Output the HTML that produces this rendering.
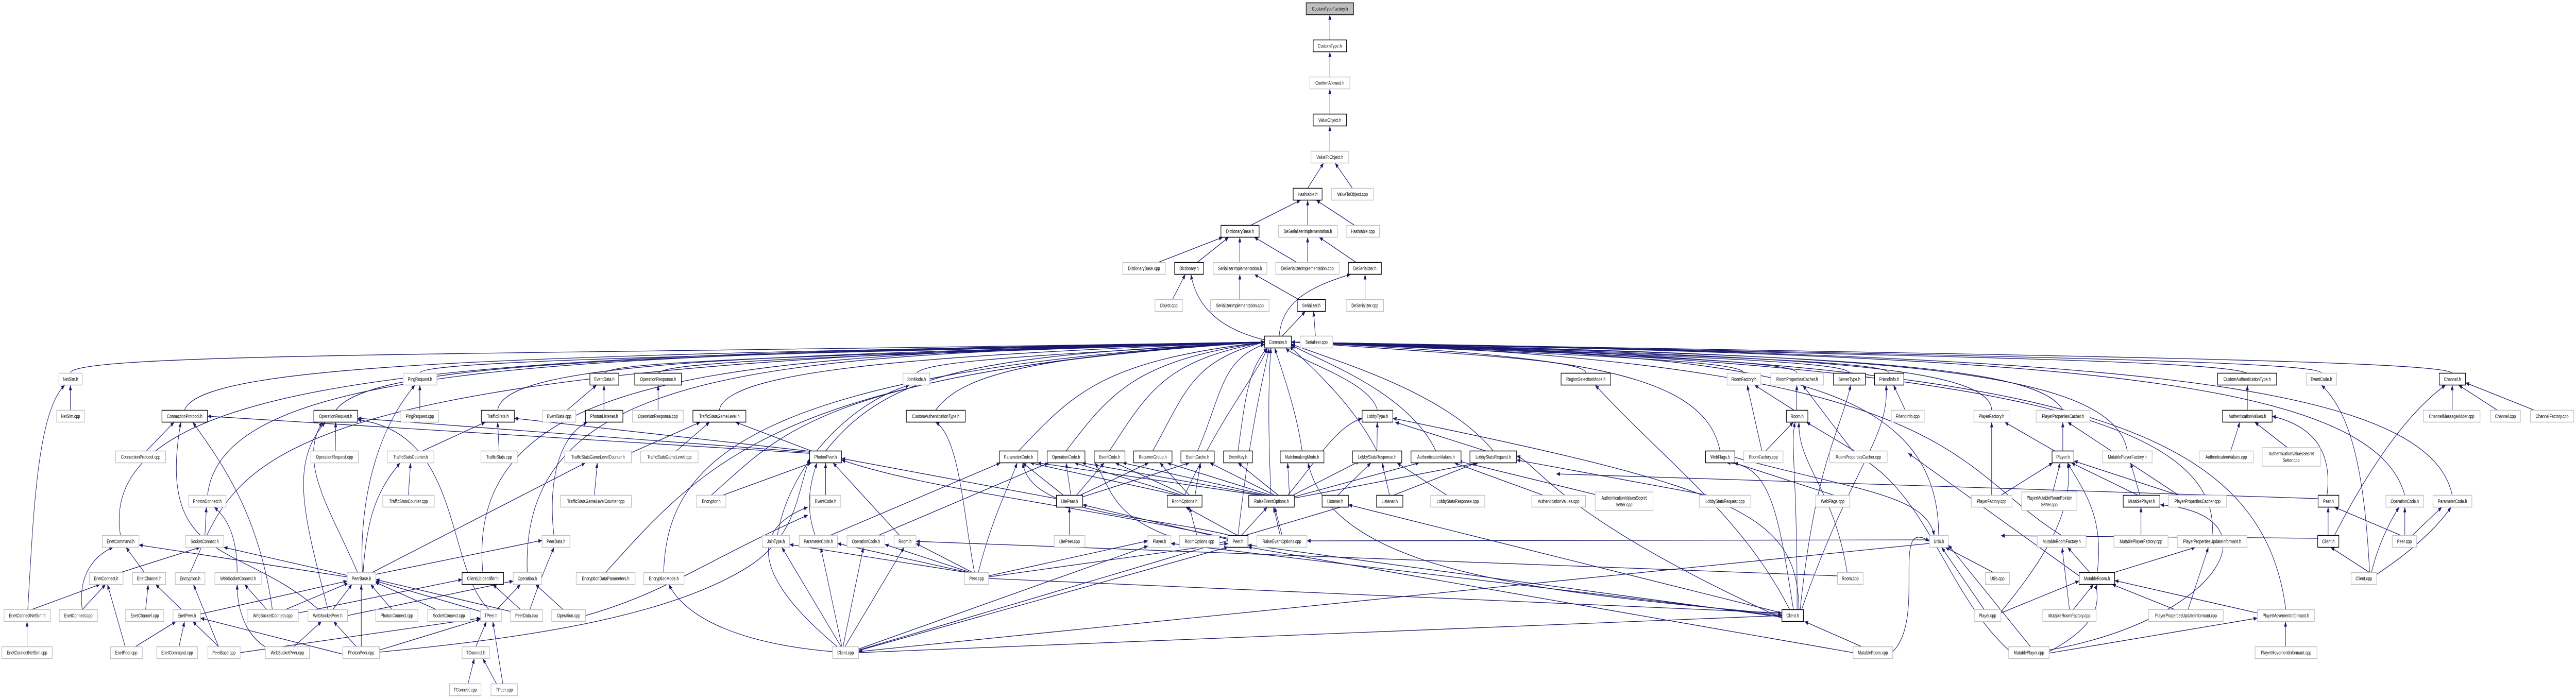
<!DOCTYPE html>
<html><head><meta charset="utf-8"><style>
html,body{margin:0;padding:0;background:#fff;overflow:hidden;width:100vw;height:100vh}
svg{display:block;width:100vw;height:100vh}
.n rect{fill:#fff;stroke:#bfbfbf;stroke-width:1.5}
.b rect{fill:#fff;stroke:#000;stroke-width:1.5}
text{font-family:"Liberation Sans",sans-serif;font-size:10px;text-anchor:middle;fill:#000}
.e path{fill:none;stroke:#191970;stroke-width:1.3;marker-end:url(#a)}
</style></head><body>
<svg viewBox="0 0 6952 1357" preserveAspectRatio="none" xmlns="http://www.w3.org/2000/svg">
<defs><marker id="a" markerWidth="10" markerHeight="8" refX="10" refY="4" orient="auto" markerUnits="userSpaceOnUse"><path d="M0,0 L10,4 L0,8z" fill="#191970"/></marker></defs>
<rect width="6952" height="1357" fill="#fff"/>
<g class="e">
<path d="M3589,77.5 L3589,28.5"/>
<path d="M3589,149.5 L3589,100.5"/>
<path d="M3589,221.5 L3589,172.5"/>
<path d="M3589,293.5 L3589,244.5"/>
<path d="M3529,365.5 L3572,316.5"/>
<path d="M3650,365.5 L3603,316.5"/>
<path d="M3375,437.5 L3510,388.5"/>
<path d="M3529,437.5 L3529,388.5"/>
<path d="M3656,437.5 L3552,388.5"/>
<path d="M3125,509.5 L3300,460.5"/>
<path d="M3231,509.5 L3316,460.5"/>
<path d="M3346,509.5 L3346,460.5"/>
<path d="M3500,509.5 L3385,460.5"/>
<path d="M3529,509.5 L3529,460.5"/>
<path d="M3660,509.5 L3560,460.5"/>
<path d="M3164,581.5 L3199,532.5"/>
<path d="M3346,581.5 L3346,532.5"/>
<path d="M3505,581.5 L3385,532.5"/>
<path d="M3684,581.5 L3684,532.5"/>
<path d="M3460,652.5 L3523,604.5"/>
<path d="M3550,652.5 L3545,604.5"/>
<path d="M3413,660 C3300,640 3230,600 3214,532.5"/>
<path d="M3452,652.5 C3460,590 3520,560 3645,532.5"/>
<path d="M190,724.5 C190,684.5 1318,690 3413,664"/>
<path d="M325,1039.5 C250,700 1406,690 3413,664"/>
<path d="M498,796.5 C540,700 1518,690 3413,664"/>
<path d="M560,961.5 C600,700 1559,690 3413,664"/>
<path d="M513,1111.5 C650,900 620,700 3413,664"/>
<path d="M906,796.5 C1000,700 1783,690 3413,664"/>
<path d="M1133,724.5 C1133,700 1931,690 3413,664"/>
<path d="M1303,1111.5 C1250,700 2042,690 3413,664"/>
<path d="M1343,796.5 C1360,700 2068,690 3413,664"/>
<path d="M1423,1111.5 C1400,700 2120,690 3413,664"/>
<path d="M1631,724.5 C1650,700 2255,690 3413,664"/>
<path d="M1776,724.5 C1800,700 2349,690 3413,664"/>
<path d="M1941,796.5 C1960,720 2456,690 3413,664"/>
<path d="M1634,1111.5 C1900,900 2100,720 3413,664"/>
<path d="M1791,1111.5 C1800,900 2000,720 3413,664"/>
<path d="M1919,961.5 C2100,850 2200,720 3413,664"/>
<path d="M2228,875.5 C2400,720 2643,690 3413,664"/>
<path d="M2473,724.5 C2500,700 2802,690 3413,664"/>
<path d="M2525,796.5 C2600,720 2836,690 3413,664"/>
<path d="M2749,875.5 C2900,760 2981,700 3413,664"/>
<path d="M2877,875.5 C3000,760 3065,700 3413,664"/>
<path d="M2994,875.5 C3100,760 3141,700 3413,664"/>
<path d="M3111,875.5 C3200,760 3217,700 3413,664"/>
<path d="M3232,875.5 C3300,760 3295,700 3413,668"/>
<path d="M3341,875.5 C3360,780 3366,720 3420,675.5"/>
<path d="M3514,875.5 C3500,800 3460,720 3440,675.5"/>
<path d="M3717,796.5 C3700,740 3500,700 3470,675.5"/>
<path d="M3716,875.5 C3650,780 3520,700 3480,672"/>
<path d="M3875,875.5 C3800,760 3560,700 3485,670"/>
<path d="M4030,875.5 C3900,760 3600,700 3485,668"/>
<path d="M3430,961.5 C3420,800 3425,720 3430,675.5"/>
<path d="M3197,961.5 C3300,800 3400,720 3420,675.5"/>
<path d="M3341,1039.5 C3380,800 3415,720 3425,675.5"/>
<path d="M4280,724.5 C4280,700 4002,690 3485,664"/>
<path d="M4642,875.5 C4600,720 4237,690 3485,664"/>
<path d="M4706,724.5 C4706,700 4279,690 3485,664"/>
<path d="M4850,724.5 C4850,700 4372,690 3485,664"/>
<path d="M4991,724.5 C4991,700 4464,690 3485,664"/>
<path d="M5098,724.5 C5098,700 4533,690 3485,664"/>
<path d="M5232,1039.5 C5232,700 4621,690 3485,664"/>
<path d="M5375,796.5 C5375,700 4713,690 3485,664"/>
<path d="M5567,796.5 C5500,700 4838,690 3485,664"/>
<path d="M5741,875.5 C5700,700 4951,690 3485,664"/>
<path d="M5564,1039.5 C5250,900 5300,700 3485,664"/>
<path d="M5970,1039.5 C6000,800 5300,700 3485,664"/>
<path d="M6169,1183.5 C6100,800 5500,700 3485,664"/>
<path d="M6064,724.5 C6000,700 5161,690 3485,664"/>
<path d="M6265,724.5 C6265,700 5292,690 3485,664"/>
<path d="M6618,724.5 C6600,700 5521,690 3485,664"/>
<path d="M6490,961.5 C6400,720 5438,690 3485,664"/>
<path d="M6618,961.5 C6550,720 5521,690 3485,664"/>
<path d="M190,796.5 L190,747.5"/>
<path d="M75,1183.5 C90,1000 100,800 175,747.5"/>
<path d="M73,1255.5 L73,1206.5"/>
<path d="M395,875.5 L470,819.5"/>
<path d="M735,1183.5 C700,1000 600,900 520,819.5"/>
<path d="M860,1183.5 C650,1050 420,1100 488,819.5"/>
<path d="M2185,880 L560,808"/>
<path d="M905,875.5 L906,819.5"/>
<path d="M965,1111.5 C900,1000 800,900 870,819.5"/>
<path d="M885,1183.5 C820,1000 780,900 878,819.5"/>
<path d="M1320,1183.5 C1200,1100 1250,840 965,815"/>
<path d="M2185,878 L965,812"/>
<path d="M1133,796.5 L1133,747.5"/>
<path d="M978,1111.5 C970,1000 1000,850 1120,747.5"/>
<path d="M1140,875.5 L1310,819.5"/>
<path d="M1347,875.5 L1343,819.5"/>
<path d="M2185,876 L1388,812"/>
<path d="M1102,961.5 L1108,898.5"/>
<path d="M980,1111.5 C990,1000 1020,950 1080,898.5"/>
<path d="M1604,961.5 L1612,898.5"/>
<path d="M1004,1111.5 L1580,898.5"/>
<path d="M1530,796.5 L1610,747.5"/>
<path d="M1630,796.5 L1630,747.5"/>
<path d="M1495,1039.5 C1480,950 1500,850 1585,819.5"/>
<path d="M553,1039.5 L557,984.5"/>
<path d="M640,1111.5 C640,1050 620,1010 578,984.5"/>
<path d="M325,1111.5 L540,1062.5"/>
<path d="M937,1117 L604,1062.5"/>
<path d="M937,1120 L375,1058"/>
<path d="M390,1111.5 L340,1062.5"/>
<path d="M222,1183.5 C210,1120 250,1080 305,1062.5"/>
<path d="M85,1183.5 L270,1134.5"/>
<path d="M222,1183.5 L285,1134.5"/>
<path d="M338,1255.5 L290,1134.5"/>
<path d="M393,1183.5 L400,1134.5"/>
<path d="M490,1183.5 L420,1134.5"/>
<path d="M590,1255.5 L522,1134.5"/>
<path d="M720,1183.5 L660,1134.5"/>
<path d="M715,1255.5 C660,1230 640,1180 640,1134.5"/>
<path d="M365,1255.5 L475,1206.5"/>
<path d="M483,1255.5 L498,1206.5"/>
<path d="M590,1255.5 L520,1206.5"/>
<path d="M925,1270 L541,1200"/>
<path d="M541,1192 L937,1128"/>
<path d="M770,1183.5 L940,1132"/>
<path d="M898,1183.5 L950,1134.5"/>
<path d="M975,1255.5 L975,1134.5"/>
<path d="M1058,1183.5 L1000,1134.5"/>
<path d="M1178,1183.5 L1012,1130"/>
<path d="M1297,1187 L1014,1128"/>
<path d="M1378,1187 L1014,1125"/>
<path d="M793,1255.5 L868,1206.5"/>
<path d="M962,1255.5 L900,1206.5"/>
<path d="M805,1190 L1247,1125"/>
<path d="M1405,1183.5 L1330,1134.5"/>
<path d="M938,1195 L1385,1128"/>
<path d="M1340,1183.5 L1405,1134.5"/>
<path d="M1520,1183.5 L1445,1134.5"/>
<path d="M1430,1183.5 C1460,1120 1480,1090 1495,1062.5"/>
<path d="M1014,1115 L1463,1049"/>
<path d="M648,1267 L1297,1200"/>
<path d="M1024,1262 L1297,1202"/>
<path d="M1284,1255.5 L1313,1206.5"/>
<path d="M1357,1327.5 L1330,1206.5"/>
<path d="M1263,1327.5 L1280,1278.5"/>
<path d="M1340,1327.5 L1303,1278.5"/>
<path d="M1024,1266 C1400,1240 1800,1200 2020,1100 C2150,1040 2150,960 2185,890"/>
<path d="M1580,1195 C1800,1150 1900,1090 2180,1000"/>
<path d="M1776,796.5 L1776,747.5"/>
<path d="M1825,875.5 L1915,819.5"/>
<path d="M2190,875.5 L1985,819.5"/>
<path d="M1700,880 L1890,819.5"/>
<path d="M1950,961.5 L2190,898.5"/>
<path d="M2228,961.5 L2228,898.5"/>
<path d="M2200,1039.5 C2170,980 2190,930 2205,898.5"/>
<path d="M2098,1039.5 C2130,900 2300,780 2455,747.5"/>
<path d="M2428,1039.5 L2248,898.5"/>
<path d="M2240,1039.5 L2700,898.5"/>
<path d="M2370,1039.5 L2830,898.5"/>
<path d="M2270,1255.5 L2110,1062.5"/>
<path d="M2272,1255.5 L2215,1062.5"/>
<path d="M2275,1255.5 L2330,1062.5"/>
<path d="M2280,1255.5 L2440,1062.5"/>
<path d="M2247,1265 C2000,1250 1850,1200 1805,1134.5"/>
<path d="M2260,1255.5 C2000,1100 2050,1020 2180,984.5"/>
<path d="M2317,1260 L3098,1060"/>
<path d="M2317,1267 L4809,1195"/>
<path d="M2317,1263 L3314,1062"/>
<path d="M2317,1262 L3639,980"/>
<path d="M2610,1111.5 L2131,1057"/>
<path d="M2615,1111.5 L2260,1055"/>
<path d="M2620,1111.5 L2388,1057"/>
<path d="M2625,1111.5 L2472,1055"/>
<path d="M2630,1111.5 C2600,1000 2590,850 2525,819.5"/>
<path d="M2640,1111.5 C2680,1000 2720,950 2745,898.5"/>
<path d="M2668,1118 L3098,1050"/>
<path d="M2668,1120 L3314,1055"/>
<path d="M2668,1123 L4809,1190"/>
<path d="M2886,1039.5 L2886,984.5"/>
<path d="M2851,968 L2271,890"/>
<path d="M2870,961.5 L2760,898.5"/>
<path d="M2890,961.5 L2877,898.5"/>
<path d="M2905,961.5 L2980,898.5"/>
<path d="M2915,961.5 L3100,898.5"/>
<path d="M2920,965 L3210,898.5"/>
<path d="M3340,1039.5 L3200,984.5"/>
<path d="M3350,1039.5 L3420,984.5"/>
<path d="M3314,1045 C2900,980 2500,950 2271,893"/>
<path d="M3314,1047 L2922,980"/>
<path d="M3320,1039.5 C3100,1000 2780,1000 2760,898.5"/>
<path d="M3230,1039.5 L3210,984.5"/>
<path d="M3460,1039.5 L3440,984.5"/>
<path d="M3180,961.5 L2780,898.5"/>
<path d="M3190,961.5 L2900,898.5"/>
<path d="M3200,961.5 L3010,898.5"/>
<path d="M3210,961.5 L3130,898.5"/>
<path d="M3225,961.5 L3240,898.5"/>
<path d="M3400,961.5 L2800,898.5"/>
<path d="M3410,961.5 L2920,898.5"/>
<path d="M3420,961.5 L3030,898.5"/>
<path d="M3430,961.5 L3150,898.5"/>
<path d="M3440,961.5 L3265,898.5"/>
<path d="M3450,961.5 L3341,898.5"/>
<path d="M3160,1042 C3000,1000 3000,950 2955,898.5"/>
<path d="M3716,875.5 L3717,819.5"/>
<path d="M4010,875.5 L3765,819.5"/>
<path d="M3750,961.5 L3730,898.5"/>
<path d="M3905,961.5 L3770,898.5"/>
<path d="M4165,961.5 L3925,898.5"/>
<path d="M4305,960 L3935,895"/>
<path d="M4610,961.5 L4093,893"/>
<path d="M3480,961.5 L3475,898.5"/>
<path d="M3485,963 L3670,895"/>
<path d="M3490,965 L3830,898.5"/>
<path d="M3493,967 L3990,898.5"/>
<path d="M3475,961.5 C3550,900 3600,830 3676,812"/>
<path d="M3610,961.5 L3700,898.5"/>
<path d="M3760,961.5 L3985,898.5"/>
<path d="M3455,1039.5 L3437,984.5"/>
<path d="M4830,1183.5 C4700,1000 4500,900 4305,747.5"/>
<path d="M4840,1183.5 C4800,1000 4780,900 4660,898.5"/>
<path d="M4850,1183.5 C4850,900 4830,860 4845,819.5"/>
<path d="M4855,1183.5 C4850,1000 4700,950 3759,812"/>
<path d="M4858,1183.5 C4900,900 4960,850 4995,747.5"/>
<path d="M4862,1183.5 C5000,900 5100,850 5090,747.5"/>
<path d="M4809,1190 L3639,980"/>
<path d="M4809,1193 C4200,1150 3600,1120 3530,898.5"/>
<path d="M4809,1196 L3160,1055"/>
<path d="M4809,1198 L3368,1058"/>
<path d="M4809,1200 C4200,1000 4150,900 4093,885"/>
<path d="M4755,875.5 L4715,747.5"/>
<path d="M4765,875.5 L4840,819.5"/>
<path d="M4842,796.5 L4735,747.5"/>
<path d="M4849,796.5 L4849,747.5"/>
<path d="M5000,875.5 L4865,747.5"/>
<path d="M5005,875.5 L4875,819.5"/>
<path d="M5142,796.5 L5110,747.5"/>
<path d="M4950,961.5 L4680,898.5"/>
<path d="M4985,1111.5 C4950,950 4850,900 4855,819.5"/>
<path d="M4959,1118 L2472,1051"/>
<path d="M5025,1255.5 L4870,1206.5"/>
<path d="M5108,1265 C5200,1200 5100,1000 5207,1051"/>
<path d="M5001,1267 L3368,1062"/>
<path d="M4682,888 C5000,950 5200,960 5220,1040"/>
<path d="M5375,961.5 L5375,819.5"/>
<path d="M5545,875.5 L5410,819.5"/>
<path d="M5567,875.5 L5567,819.5"/>
<path d="M5880,961.5 L5580,819.5"/>
<path d="M5880,961.5 L5597,895"/>
<path d="M5400,961.5 L5540,898.5"/>
<path d="M5540,955 L5560,898.5"/>
<path d="M5770,961.5 L5590,898.5"/>
<path d="M5775,961.5 L5750,898.5"/>
<path d="M5778,1039.5 L5778,984.5"/>
<path d="M5380,1111.5 L5250,1062.5"/>
<path d="M5355,1183.5 L5240,1062.5"/>
<path d="M5480,1255.5 L5258,1058"/>
<path d="M5640,1111.5 L5580,1062.5"/>
<path d="M5585,1183.5 L5565,1062.5"/>
<path d="M5705,1111.5 L5925,1062.5"/>
<path d="M5660,1111.5 C5680,1000 5620,950 5580,898.5"/>
<path d="M5611,1118 L5150,880"/>
<path d="M5400,1190 L5611,1128"/>
<path d="M5595,1183.5 L5650,1134.5"/>
<path d="M5870,1183.5 L5700,1134.5"/>
<path d="M5905,1183.5 L5960,1062.5"/>
<path d="M6092,1190 L5707,1127"/>
<path d="M6168,1255.5 L6168,1206.5"/>
<path d="M5530,1265 C5700,1200 5650,1150 5660,1134.5"/>
<path d="M5530,1268 L6092,1200"/>
<path d="M5530,1262 C6000,1200 6150,1000 5830,980"/>
<path d="M5421,1262 C5250,1150 5200,950 5000,880"/>
<path d="M5400,1188 C5500,1100 5600,1000 5580,898.5"/>
<path d="M6065,796.5 L6065,747.5"/>
<path d="M6020,875.5 L6045,819.5"/>
<path d="M6175,870 L6085,819.5"/>
<path d="M6280,961.5 C6300,850 6200,820 6132,808"/>
<path d="M6283,1039.5 L6283,984.5"/>
<path d="M6480,1039.5 L6300,984.5"/>
<path d="M6490,1039.5 L6490,984.5"/>
<path d="M6510,1039.5 L6590,984.5"/>
<path d="M6395,1111.5 L6290,1062.5"/>
<path d="M6400,1111.5 C6420,1050 6460,1000 6475,984.5"/>
<path d="M6414,1115 C6550,1050 6600,1000 6615,984.5"/>
<path d="M6395,1111.5 C6380,900 6340,800 6265,747.5"/>
<path d="M6300,1039.5 C6400,900 6500,800 6600,747.5"/>
<path d="M6618,796.5 L6618,747.5"/>
<path d="M6740,796.5 L6635,747.5"/>
<path d="M6840,796.5 L6654,743"/>
<path d="M6256,968 L4200,920"/>
<path d="M6255,1045 L5400,1040"/>
<path d="M5258,1048 L3527,1050"/>
<path d="M5207,1055 L2317,1265"/>
</g>

<rect x="3525" y="5.5" width="128" height="23" fill="#bfbfbf" stroke="#000" stroke-width="1.5"/><text x="3589" y="20.5">CustomTypeFactory.h</text>
<g class="b"><rect x="3544" y="77.5" width="90" height="23"/><text x="3589" y="92.5">CustomType.h</text></g>
<g class="n"><rect x="3535" y="149.5" width="108" height="23"/><text x="3589" y="164.5">ConfirmAllowed.h</text></g>
<g class="b"><rect x="3544" y="221.5" width="90" height="23"/><text x="3589" y="236.5">ValueObject.h</text></g>
<g class="n"><rect x="3538" y="293.5" width="102" height="23"/><text x="3589" y="308.5">ValueToObject.h</text></g>
<g class="b"><rect x="3490" y="365.5" width="78" height="23"/><text x="3529" y="380.5">Hashtable.h</text></g>
<g class="n"><rect x="3593" y="365.5" width="114" height="23"/><text x="3650" y="380.5">ValueToObject.cpp</text></g>
<g class="b"><rect x="3295" y="437.5" width="103" height="23"/><text x="3346.5" y="452.5">DictionaryBase.h</text></g>
<g class="n"><rect x="3450" y="437.5" width="159" height="23"/><text x="3529.5" y="452.5">DeSerializerImplementation.h</text></g>
<g class="n"><rect x="3633" y="437.5" width="90" height="23"/><text x="3678" y="452.5">Hashtable.cpp</text></g>
<g class="n"><rect x="3030" y="509.5" width="115" height="23"/><text x="3087.5" y="524.5">DictionaryBase.cpp</text></g>
<g class="b"><rect x="3170" y="509.5" width="78" height="23"/><text x="3209" y="524.5">Dictionary.h</text></g>
<g class="n"><rect x="3274" y="509.5" width="145" height="23"/><text x="3346.5" y="524.5">SerializerImplementation.h</text></g>
<g class="n"><rect x="3443" y="509.5" width="171" height="23"/><text x="3528.5" y="524.5">DeSerializerImplementation.cpp</text></g>
<g class="b"><rect x="3639" y="509.5" width="89" height="23"/><text x="3683.5" y="524.5">DeSerializer.h</text></g>
<g class="n"><rect x="3117" y="581.5" width="74" height="23"/><text x="3154" y="596.5">Object.cpp</text></g>
<g class="n"><rect x="3267" y="581.5" width="158" height="23"/><text x="3346" y="596.5">SerializerImplementation.cpp</text></g>
<g class="b"><rect x="3501" y="581.5" width="76" height="23"/><text x="3539" y="596.5">Serializer.h</text></g>
<g class="n"><rect x="3633" y="581.5" width="101" height="23"/><text x="3683.5" y="596.5">DeSerializer.cpp</text></g>
<g class="b"><rect x="3413" y="652.5" width="72" height="23"/><text x="3449" y="667.5">Common.h</text></g>
<g class="n"><rect x="3509" y="652.5" width="88" height="23"/><text x="3553" y="667.5">Serializer.cpp</text></g>

<g class="n"><rect x="159" y="724.5" width="63" height="23"/><text x="190.5" y="739.5">NetSim.h</text></g>
<g class="n"><rect x="1088" y="724.5" width="91" height="23"/><text x="1133.5" y="739.5">PingRequest.h</text></g>
<g class="b"><rect x="1592" y="724.5" width="78" height="23"/><text x="1631" y="739.5">EventData.h</text></g>
<g class="b"><rect x="1713" y="724.5" width="126" height="23"/><text x="1776" y="739.5">OperationResponse.h</text></g>
<g class="n"><rect x="2437" y="724.5" width="72" height="23"/><text x="2473" y="739.5">JoinMode.h</text></g>
<g class="b"><rect x="4213" y="724.5" width="134" height="23"/><text x="4280" y="739.5">RegionSelectionMode.h</text></g>
<g class="n"><rect x="4661" y="724.5" width="91" height="23"/><text x="4706.5" y="739.5">RoomFactory.h</text></g>
<g class="n"><rect x="4779" y="724.5" width="142" height="23"/><text x="4850" y="739.5">RoomPropertiesCacher.h</text></g>
<g class="b"><rect x="4948" y="724.5" width="86" height="23"/><text x="4991" y="739.5">ServerType.h</text></g>
<g class="b"><rect x="5059" y="724.5" width="79" height="23"/><text x="5098.5" y="739.5">FriendInfo.h</text></g>
<g class="b"><rect x="5985" y="724.5" width="159" height="23"/><text x="6064.5" y="739.5">CustomAuthenticationType.h</text></g>
<g class="n"><rect x="6224" y="724.5" width="82" height="23"/><text x="6265" y="739.5">EventCode.h</text></g>
<g class="b"><rect x="6583" y="724.5" width="71" height="23"/><text x="6618.5" y="739.5">Channel.h</text></g>
<g class="n"><rect x="153" y="796.5" width="75" height="23"/><text x="190.5" y="811.5">NetSim.cpp</text></g>
<g class="b"><rect x="437" y="796.5" width="123" height="23"/><text x="498.5" y="811.5">ConnectionProtocol.h</text></g>
<g class="b"><rect x="847" y="796.5" width="118" height="23"/><text x="906" y="811.5">OperationRequest.h</text></g>
<g class="n"><rect x="1082" y="796.5" width="102" height="23"/><text x="1133" y="811.5">PingRequest.cpp</text></g>
<g class="b"><rect x="1299" y="796.5" width="89" height="23"/><text x="1343.5" y="811.5">TrafficStats.h</text></g>
<g class="n"><rect x="1464" y="796.5" width="90" height="23"/><text x="1509" y="811.5">EventData.cpp</text></g>
<g class="b"><rect x="1580" y="796.5" width="101" height="23"/><text x="1630.5" y="811.5">PhotonListener.h</text></g>
<g class="n"><rect x="1707" y="796.5" width="137" height="23"/><text x="1775.5" y="811.5">OperationResponse.cpp</text></g>
<g class="b"><rect x="1870" y="796.5" width="143" height="23"/><text x="1941.5" y="811.5">TrafficStatsGameLevel.h</text></g>
<g class="b"><rect x="2446" y="796.5" width="159" height="23"/><text x="2525.5" y="811.5">CustomAuthenticationType.h</text></g>
<g class="b"><rect x="3676" y="796.5" width="83" height="23"/><text x="3717.5" y="811.5">LobbyType.h</text></g>
<g class="b"><rect x="4821" y="796.5" width="58" height="23"/><text x="4850" y="811.5">Room.h</text></g>
<g class="n"><rect x="5104" y="796.5" width="89" height="23"/><text x="5148.5" y="811.5">FriendInfo.cpp</text></g>
<g class="n"><rect x="5327" y="796.5" width="95" height="23"/><text x="5374.5" y="811.5">PlayerFactory.h</text></g>
<g class="n"><rect x="5495" y="796.5" width="145" height="23"/><text x="5567.5" y="811.5">PlayerPropertiesCacher.h</text></g>
<g class="b"><rect x="5998" y="796.5" width="134" height="23"/><text x="6065" y="811.5">AuthenticationValues.h</text></g>
<g class="n"><rect x="6540" y="796.5" width="153" height="23"/><text x="6616.5" y="811.5">ChannelMessageAdder.cpp</text></g>
<g class="n"><rect x="6721" y="796.5" width="81" height="23"/><text x="6761.5" y="811.5">Channel.cpp</text></g>
<g class="n"><rect x="6829" y="796.5" width="117" height="23"/><text x="6887.5" y="811.5">ChannelFactory.cpp</text></g>
<g class="n"><rect x="312" y="875.5" width="135" height="23"/><text x="379.5" y="890.5">ConnectionProtocol.cpp</text></g>
<g class="n"><rect x="839" y="875.5" width="128" height="23"/><text x="903" y="890.5">OperationRequest.cpp</text></g>
<g class="n"><rect x="1045" y="875.5" width="126" height="23"/><text x="1108" y="890.5">TrafficStatsCounter.h</text></g>
<g class="n"><rect x="1298" y="875.5" width="98" height="23"/><text x="1347" y="890.5">TrafficStats.cpp</text></g>
<g class="n"><rect x="1524" y="875.5" width="180" height="23"/><text x="1614" y="890.5">TrafficStatsGameLevelCounter.h</text></g>
<g class="n"><rect x="1729" y="875.5" width="155" height="23"/><text x="1806.5" y="890.5">TrafficStatsGameLevel.cpp</text></g>
<g class="b"><rect x="2185" y="875.5" width="86" height="23"/><text x="2228" y="890.5">PhotonPeer.h</text></g>
<g class="b"><rect x="2697" y="875.5" width="104" height="23"/><text x="2749" y="890.5">ParameterCode.h</text></g>
<g class="b"><rect x="2826" y="875.5" width="102" height="23"/><text x="2877" y="890.5">OperationCode.h</text></g>
<g class="b"><rect x="2953" y="875.5" width="83" height="23"/><text x="2994.5" y="890.5">EventCode.h</text></g>
<g class="b"><rect x="3059" y="875.5" width="104" height="23"/><text x="3111" y="890.5">ReceiverGroup.h</text></g>
<g class="b"><rect x="3187" y="875.5" width="90" height="23"/><text x="3232" y="890.5">EventCache.h</text></g>
<g class="b"><rect x="3302" y="875.5" width="78" height="23"/><text x="3341" y="890.5">EventKey.h</text></g>
<g class="b"><rect x="3455" y="875.5" width="118" height="23"/><text x="3514" y="890.5">MatchmakingMode.h</text></g>
<g class="b"><rect x="3650" y="875.5" width="133" height="23"/><text x="3716.5" y="890.5">LobbyStatsResponse.h</text></g>
<g class="b"><rect x="3808" y="875.5" width="135" height="23"/><text x="3875.5" y="890.5">AuthenticationValues.h</text></g>
<g class="b"><rect x="3967" y="875.5" width="126" height="23"/><text x="4030" y="890.5">LobbyStatsRequest.h</text></g>
<g class="b"><rect x="4603" y="875.5" width="79" height="23"/><text x="4642.5" y="890.5">WebFlags.h</text></g>
<g class="n"><rect x="4706" y="875.5" width="106" height="23"/><text x="4759" y="890.5">RoomFactory.cpp</text></g>
<g class="n"><rect x="4938" y="875.5" width="155" height="23"/><text x="5015.5" y="890.5">RoomPropertiesCacher.cpp</text></g>
<g class="b"><rect x="5538" y="875.5" width="59" height="23"/><text x="5567.5" y="890.5">Player.h</text></g>
<g class="n"><rect x="5674" y="875.5" width="134" height="23"/><text x="5741" y="890.5">MutablePlayerFactory.h</text></g>
<g class="n"><rect x="5935" y="875.5" width="146" height="23"/><text x="6008" y="890.5">AuthenticationValues.cpp</text></g>
<g class="n"><rect x="6105" y="869" width="157" height="36"/><text x="6183.5" y="884">AuthenticationValuesSecret</text><text x="6183.5" y="897">Setter.cpp</text></g>
<g class="n"><rect x="509" y="961.5" width="101" height="23"/><text x="559.5" y="976.5">PhotonConnect.h</text></g>
<g class="n"><rect x="1033" y="961.5" width="139" height="23"/><text x="1102.5" y="976.5">TrafficStatsCounter.cpp</text></g>
<g class="n"><rect x="1512" y="961.5" width="192" height="23"/><text x="1608" y="976.5">TrafficStatsGameLevelCounter.cpp</text></g>
<g class="n"><rect x="1880" y="961.5" width="79" height="23"/><text x="1919.5" y="976.5">Encryptor.h</text></g>
<g class="n"><rect x="2187" y="961.5" width="82" height="23"/><text x="2228" y="976.5">EventCode.h</text></g>
<g class="b"><rect x="2851" y="961.5" width="71" height="23"/><text x="2886.5" y="976.5">LitePeer.h</text></g>
<g class="b"><rect x="3150" y="961.5" width="94" height="23"/><text x="3197" y="976.5">RoomOptions.h</text></g>
<g class="b"><rect x="3370" y="961.5" width="123" height="23"/><text x="3431.5" y="976.5">RaiseEventOptions.h</text></g>
<g class="b"><rect x="3568" y="961.5" width="71" height="23"/><text x="3603.5" y="976.5">Listener.h</text></g>
<g class="b"><rect x="3715" y="961.5" width="71" height="23"/><text x="3750.5" y="976.5">Listener.h</text></g>
<g class="n"><rect x="3861" y="961.5" width="146" height="23"/><text x="3934" y="976.5">LobbyStatsResponse.cpp</text></g>
<g class="n"><rect x="4134" y="961.5" width="145" height="23"/><text x="4206.5" y="976.5">AuthenticationValues.cpp</text></g>
<g class="n"><rect x="4305" y="955" width="156" height="36"/><text x="4383" y="970">AuthenticationValuesSecret</text><text x="4383" y="983">Setter.cpp</text></g>
<g class="n"><rect x="4586" y="961.5" width="139" height="23"/><text x="4655.5" y="976.5">LobbyStatsRequest.cpp</text></g>
<g class="n"><rect x="4900" y="961.5" width="92" height="23"/><text x="4946" y="976.5">WebFlags.cpp</text></g>
<g class="n"><rect x="5320" y="961.5" width="110" height="23"/><text x="5375" y="976.5">PlayerFactory.cpp</text></g>
<g class="n"><rect x="5456" y="955" width="149" height="36"/><text x="5530.5" y="970">PlayerMutableRoomPointer</text><text x="5530.5" y="983">Setter.cpp</text></g>
<g class="b"><rect x="5730" y="961.5" width="99" height="23"/><text x="5779.5" y="976.5">MutablePlayer.h</text></g>
<g class="n"><rect x="5852" y="961.5" width="157" height="23"/><text x="5930.5" y="976.5">PlayerPropertiesCacher.cpp</text></g>
<g class="b"><rect x="6256" y="961.5" width="56" height="23"/><text x="6284" y="976.5">Peer.h</text></g>
<g class="n"><rect x="6439" y="961.5" width="102" height="23"/><text x="6490" y="976.5">OperationCode.h</text></g>
<g class="n"><rect x="6566" y="961.5" width="105" height="23"/><text x="6618.5" y="976.5">ParameterCode.h</text></g>
<g class="n"><rect x="276" y="1039.5" width="99" height="23"/><text x="325.5" y="1054.5">EnetCommand.h</text></g>
<g class="n"><rect x="501" y="1039.5" width="103" height="23"/><text x="552.5" y="1054.5">SocketConnect.h</text></g>
<g class="n"><rect x="1463" y="1039.5" width="75" height="23"/><text x="1500.5" y="1054.5">PeerData.h</text></g>
<g class="n"><rect x="2057" y="1039.5" width="74" height="23"/><text x="2094" y="1054.5">JoinType.h</text></g>
<g class="n"><rect x="2157" y="1039.5" width="103" height="23"/><text x="2208.5" y="1054.5">ParameterCode.h</text></g>
<g class="n"><rect x="2286" y="1039.5" width="102" height="23"/><text x="2337" y="1054.5">OperationCode.h</text></g>
<g class="n"><rect x="2413" y="1039.5" width="59" height="23"/><text x="2442.5" y="1054.5">Room.h</text></g>
<g class="n"><rect x="2845" y="1039.5" width="83" height="23"/><text x="2886.5" y="1054.5">LitePeer.cpp</text></g>
<g class="n"><rect x="3098" y="1039.5" width="62" height="23"/><text x="3129" y="1054.5">Player.h</text></g>
<g class="n"><rect x="3183" y="1039.5" width="108" height="23"/><text x="3237" y="1054.5">RoomOptions.cpp</text></g>
<g class="b"><rect x="3314" y="1039.5" width="54" height="23"/><text x="3341" y="1054.5">Peer.h</text></g>
<g class="n"><rect x="3392" y="1039.5" width="135" height="23"/><text x="3459.5" y="1054.5">RaiseEventOptions.cpp</text></g>
<g class="n"><rect x="5207" y="1039.5" width="51" height="23"/><text x="5232.5" y="1054.5">Utils.h</text></g>
<g class="n"><rect x="5498" y="1039.5" width="132" height="23"/><text x="5564" y="1054.5">MutableRoomFactory.h</text></g>
<g class="n"><rect x="5705" y="1039.5" width="146" height="23"/><text x="5778" y="1054.5">MutablePlayerFactory.cpp</text></g>
<g class="n"><rect x="5876" y="1039.5" width="188" height="23"/><text x="5970" y="1054.5">PlayerPropertiesUpdateInformant.h</text></g>
<g class="b"><rect x="6255" y="1039.5" width="57" height="23"/><text x="6283.5" y="1054.5">Client.h</text></g>
<g class="n"><rect x="6456" y="1039.5" width="66" height="23"/><text x="6489" y="1054.5">Peer.cpp</text></g>
<g class="n"><rect x="241" y="1111.5" width="91" height="23"/><text x="286.5" y="1126.5">EnetConnect.h</text></g>
<g class="n"><rect x="358" y="1111.5" width="89" height="23"/><text x="402.5" y="1126.5">EnetChannel.h</text></g>
<g class="n"><rect x="473" y="1111.5" width="80" height="23"/><text x="513" y="1126.5">Encryption.h</text></g>
<g class="n"><rect x="580" y="1111.5" width="125" height="23"/><text x="642.5" y="1126.5">WebSocketConnect.h</text></g>
<g class="n"><rect x="937" y="1111.5" width="77" height="23"/><text x="975.5" y="1126.5">PeerBase.h</text></g>
<g class="b"><rect x="1247" y="1111.5" width="112" height="23"/><text x="1303" y="1126.5">ClientLibIdentifier.h</text></g>
<g class="n"><rect x="1385" y="1111.5" width="76" height="23"/><text x="1423" y="1126.5">Operation.h</text></g>
<g class="n"><rect x="1555" y="1111.5" width="159" height="23"/><text x="1634.5" y="1126.5">EncryptionDataParameters.h</text></g>
<g class="n"><rect x="1737" y="1111.5" width="109" height="23"/><text x="1791.5" y="1126.5">EncryptionMode.h</text></g>
<g class="n"><rect x="2603" y="1111.5" width="65" height="23"/><text x="2635.5" y="1126.5">Peer.cpp</text></g>
<g class="n"><rect x="4959" y="1111.5" width="69" height="23"/><text x="4993.5" y="1126.5">Room.cpp</text></g>
<g class="n"><rect x="5358" y="1111.5" width="65" height="23"/><text x="5390.5" y="1126.5">Utils.cpp</text></g>
<g class="b"><rect x="5611" y="1111.5" width="96" height="23"/><text x="5659" y="1126.5">MutableRoom.h</text></g>
<g class="n"><rect x="6345" y="1111.5" width="69" height="23"/><text x="6379.5" y="1126.5">Client.cpp</text></g>
<g class="n"><rect x="11" y="1183.5" width="125" height="23"/><text x="73.5" y="1198.5">EnetConnectNetSim.h</text></g>
<g class="n"><rect x="160" y="1183.5" width="103" height="23"/><text x="211.5" y="1198.5">EnetConnect.cpp</text></g>
<g class="n"><rect x="339" y="1183.5" width="103" height="23"/><text x="390.5" y="1198.5">EnetChannel.cpp</text></g>
<g class="n"><rect x="467" y="1183.5" width="74" height="23"/><text x="504" y="1198.5">EnetPeer.h</text></g>
<g class="n"><rect x="667" y="1183.5" width="138" height="23"/><text x="736" y="1198.5">WebSocketConnect.cpp</text></g>
<g class="n"><rect x="831" y="1183.5" width="107" height="23"/><text x="884.5" y="1198.5">WebSocketPeer.h</text></g>
<g class="n"><rect x="1014" y="1183.5" width="114" height="23"/><text x="1071" y="1198.5">PhotonConnect.cpp</text></g>
<g class="n"><rect x="1154" y="1183.5" width="115" height="23"/><text x="1211.5" y="1198.5">SocketConnect.cpp</text></g>
<g class="n"><rect x="1297" y="1183.5" width="56" height="23"/><text x="1325" y="1198.5">TPeer.h</text></g>
<g class="n"><rect x="1378" y="1183.5" width="86" height="23"/><text x="1421" y="1198.5">PeerData.cpp</text></g>
<g class="n"><rect x="1489" y="1183.5" width="91" height="23"/><text x="1534.5" y="1198.5">Operation.cpp</text></g>
<g class="b"><rect x="4809" y="1183.5" width="58" height="23"/><text x="4838" y="1198.5">Client.h</text></g>
<g class="n"><rect x="5328" y="1183.5" width="72" height="23"/><text x="5364" y="1198.5">Player.cpp</text></g>
<g class="n"><rect x="5513" y="1183.5" width="144" height="23"/><text x="5585" y="1198.5">MutableRoomFactory.cpp</text></g>
<g class="n"><rect x="5799" y="1183.5" width="201" height="23"/><text x="5899.5" y="1198.5">PlayerPropertiesUpdateInformant.cpp</text></g>
<g class="n"><rect x="6092" y="1183.5" width="154" height="23"/><text x="6169" y="1198.5">PlayerMovementInformant.h</text></g>
<g class="n"><rect x="5" y="1255.5" width="136" height="23"/><text x="73" y="1270.5">EnetConnectNetSim.cpp</text></g>
<g class="n"><rect x="298" y="1255.5" width="86" height="23"/><text x="341" y="1270.5">EnetPeer.cpp</text></g>
<g class="n"><rect x="423" y="1255.5" width="110" height="23"/><text x="478" y="1270.5">EnetCommand.cpp</text></g>
<g class="n"><rect x="561" y="1255.5" width="87" height="23"/><text x="604.5" y="1270.5">PeerBase.cpp</text></g>
<g class="n"><rect x="716" y="1255.5" width="119" height="23"/><text x="775.5" y="1270.5">WebSocketPeer.cpp</text></g>
<g class="n"><rect x="925" y="1255.5" width="99" height="23"/><text x="974.5" y="1270.5">PhotonPeer.cpp</text></g>
<g class="n"><rect x="1247" y="1255.5" width="74" height="23"/><text x="1284" y="1270.5">TConnect.h</text></g>
<g class="n"><rect x="2247" y="1255.5" width="70" height="23"/><text x="2282" y="1270.5">Client.cpp</text></g>
<g class="n"><rect x="5001" y="1255.5" width="107" height="23"/><text x="5054.5" y="1270.5">MutableRoom.cpp</text></g>
<g class="n"><rect x="5421" y="1255.5" width="109" height="23"/><text x="5475.5" y="1270.5">MutablePlayer.cpp</text></g>
<g class="n"><rect x="6086" y="1255.5" width="167" height="23"/><text x="6169.5" y="1270.5">PlayerMovementInformant.cpp</text></g>
<g class="n"><rect x="1213" y="1327.5" width="85" height="23"/><text x="1255.5" y="1342.5">TConnect.cpp</text></g>
<g class="n"><rect x="1325" y="1327.5" width="72" height="23"/><text x="1361" y="1342.5">TPeer.cpp</text></g>
</svg>
</body></html>
